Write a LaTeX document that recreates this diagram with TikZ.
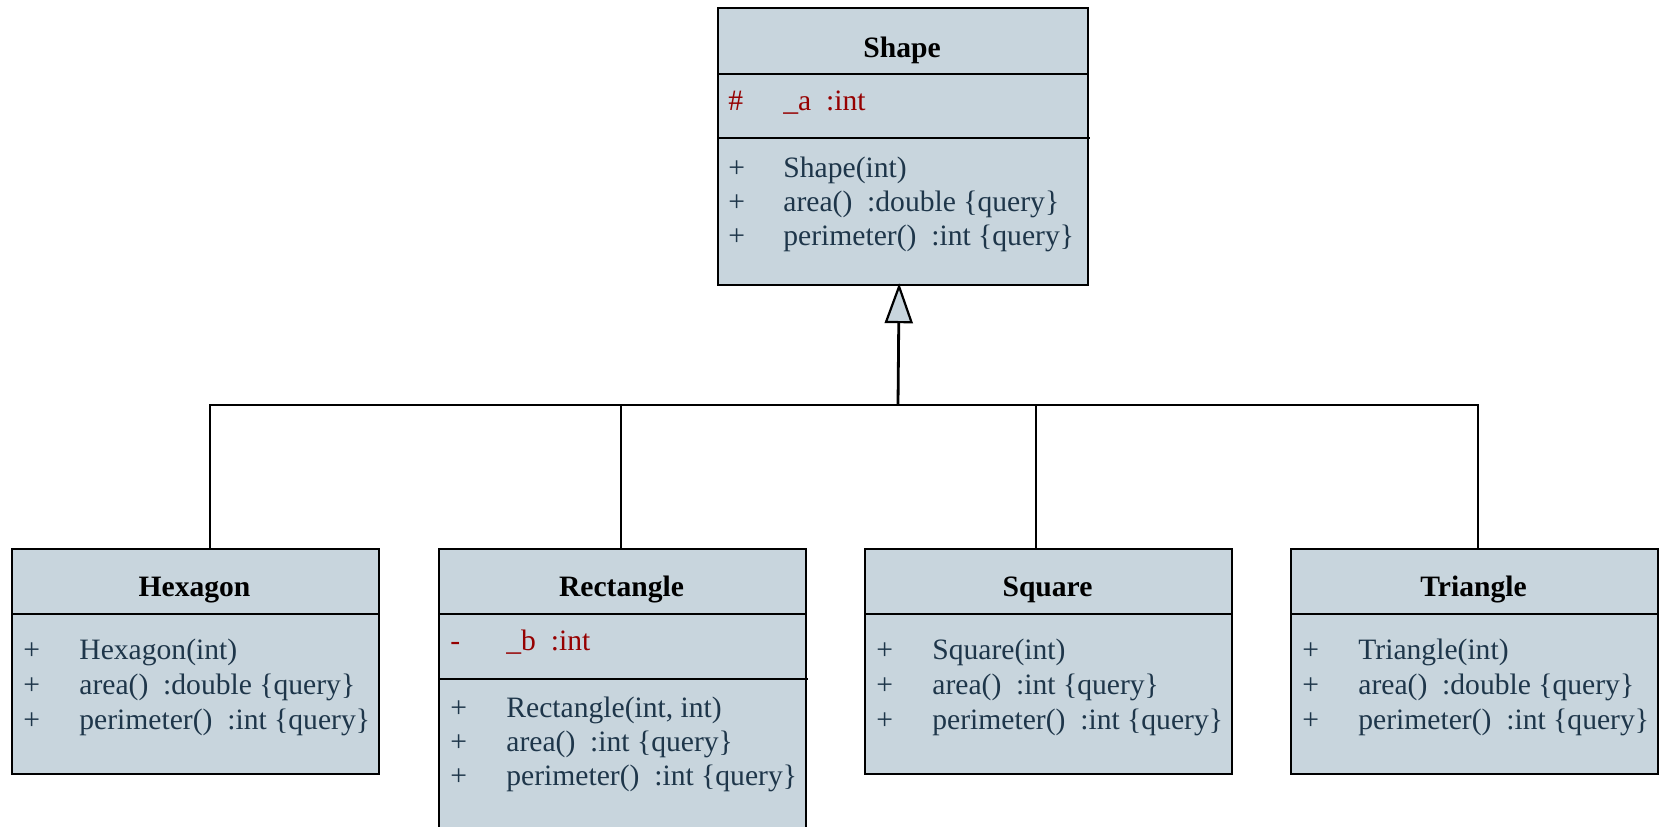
\documentclass[tikz,border=0pt]{standalone}
\usepackage{fontspec}
\setmainfont{Liberation Serif}
\usetikzlibrary{arrows.meta, positioning}

\definecolor{boxfill}{RGB}{200,213,221}
\definecolor{membertext}{RGB}{30,54,74}
\definecolor{attrtext}{RGB}{150,0,0}

\begin{document}
\begin{tikzpicture}[
    x=0.5pt, y=-0.5pt,
    classbox/.style={draw, fill=boxfill, line width=1.1pt, anchor=north west, inner sep=0pt, minimum width=183.5pt, minimum height=112.5pt},
    classname/.style={font=\fontsize{14.8}{17}\selectfont\bfseries, anchor=base, inner sep=0pt},
    member/.style={font=\fontsize{14.8}{17}\selectfont, text=membertext, anchor=base west, inner sep=0pt},
    attr/.style={member, text=attrtext},
    divider/.style={line width=1.1pt},
    conn/.style={line width=1.1pt},
    inherit/.style={line width=1.4pt, -{Triangle[open, fill=boxfill, length=20pt, width=14pt, line width=1.1pt]}}
]
    \path[use as bounding box, clip] (0,0) rectangle (1660,826);

    % Base class
    \node[classbox, minimum width=185pt, minimum height=138.5pt] (shape) at (717,7) {};
    \draw[divider] (717,74) -- (1087,74);
    \draw[divider] (717,138) -- (1090,138);
    \node[classname] (shape-name) at (902,57) {Shape};
    \node[attr] (shape-v0) at (728,110) {\#};
    \node[attr] (shape-a0) at (783,110) {\_a\ \ :int};
    \foreach \txt [count=\i from 0] in {Shape(int), {area()\ \ :double \{query\}}, {perimeter()\ \ :int \{query\}}} {
        \node[member] (shape-v\i) at (728,177+34*\i) {+};
        \node[member] (shape-m\i) at (783,177+34*\i) {\txt};
    }

    % Derived classes
    \node[classbox] (hexagon) at (11,548) {};
    \draw[divider] (11,614) -- (378,614);
    \node[classname] (hexagon-name) at (194.5,596) {Hexagon};
    \foreach \txt [count=\i from 0] in {Hexagon(int), {area()\ \ :double \{query\}}, {perimeter()\ \ :int \{query\}}} {
        \node[member] (hexagon-v\i) at (23,659+35*\i) {+};
        \node[member] (hexagon-m\i) at (79,659+35*\i) {\txt};
    }

    \node[classbox, minimum height=150pt] (rectangle) at (438,548) {};
    \draw[divider] (438,614) -- (805,614);
    \draw[divider] (438,679) -- (808,679);
    \node[classname] (rectangle-name) at (621.5,596) {Rectangle};
    \node[attr] (rectangle-v0) at (450,650) {-};
    \node[attr] (rectangle-a0) at (506,650) {\_b\ \ :int};
    \foreach \txt [count=\i from 0] in {{Rectangle(int, int)}, {area()\ \ :int \{query\}}, {perimeter()\ \ :int \{query\}}} {
        \node[member] (rectangle-v\i) at (450,717+34*\i) {+};
        \node[member] (rectangle-m\i) at (506,717+34*\i) {\txt};
    }

    \node[classbox] (square) at (864,548) {};
    \draw[divider] (864,614) -- (1231,614);
    \node[classname] (square-name) at (1047.5,596) {Square};
    \foreach \txt [count=\i from 0] in {Square(int), {area()\ \ :int \{query\}}, {perimeter()\ \ :int \{query\}}} {
        \node[member] (square-v\i) at (876,659+35*\i) {+};
        \node[member] (square-m\i) at (932,659+35*\i) {\txt};
    }

    \node[classbox] (triangle) at (1290,548) {};
    \draw[divider] (1290,614) -- (1657,614);
    \node[classname] (triangle-name) at (1473.5,596) {Triangle};
    \foreach \txt [count=\i from 0] in {Triangle(int), {area()\ \ :double \{query\}}, {perimeter()\ \ :int \{query\}}} {
        \node[member] (triangle-v\i) at (1302,659+35*\i) {+};
        \node[member] (triangle-m\i) at (1358,659+35*\i) {\txt};
    }

    % Generalisation tree
    \coordinate (bus) at (898,405);
    \draw[conn] ([xshift=7.25pt]hexagon.north) |- (bus);
    \draw[conn] ([xshift=-1pt]rectangle.north) |- (bus);
    \draw[conn] ([xshift=-6.5pt]square.north) |- (bus);
    \draw[conn] ([xshift=1.5pt]triangle.north) |- (bus);
    \draw[inherit] (bus) -- ([xshift=-2pt, yshift=1.5pt]shape.south);
\end{tikzpicture}
\end{document}
